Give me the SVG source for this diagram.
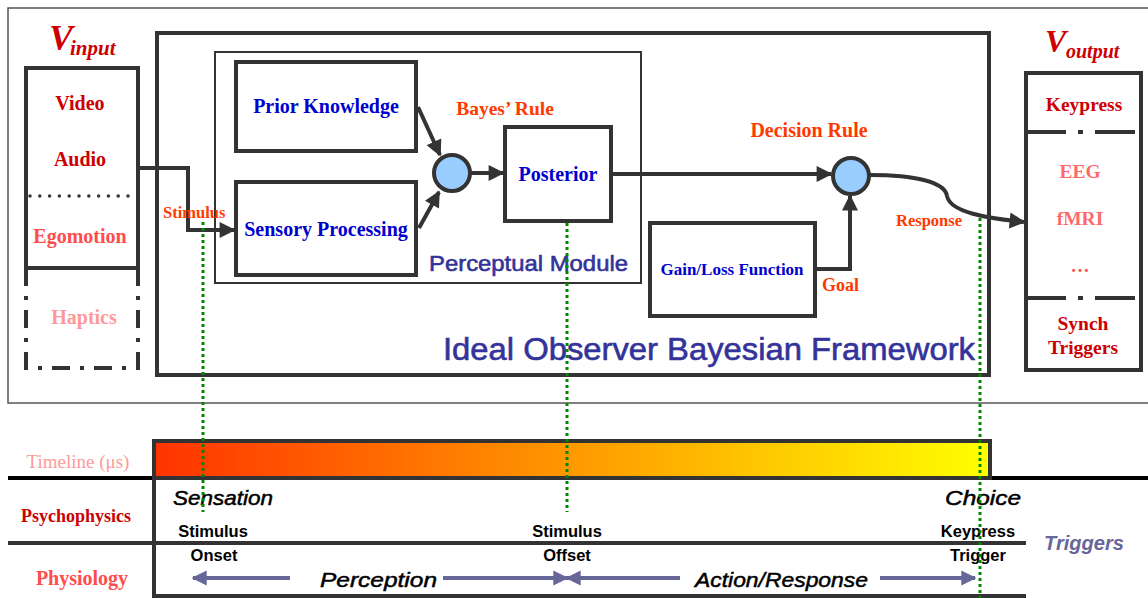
<svg xmlns="http://www.w3.org/2000/svg" width="1148" height="598" viewBox="0 0 1148 598">
<defs>
<linearGradient id="tl" x1="0" y1="0" x2="1" y2="0">
<stop offset="0" stop-color="#ff3300"/>
<stop offset="0.5" stop-color="#ff9900"/>
<stop offset="1" stop-color="#ffff00"/>
</linearGradient>
<marker id="ah" viewBox="0 0 10 10" refX="9" refY="5" markerWidth="4.2" markerHeight="4" orient="auto" markerUnits="strokeWidth">
<path d="M0,0 L10,5 L0,10 z" fill="#333"/>
</marker>
<marker id="bh" viewBox="0 0 10 10" refX="9" refY="5" markerWidth="4.2" markerHeight="3.8" orient="auto" markerUnits="strokeWidth">
<path d="M0,0 L10,5 L0,10 z" fill="#666699"/>
</marker>
</defs>
<style>
.box{fill:#fff;stroke:#333;stroke-width:4}
.thin{fill:none;stroke:#333;stroke-width:2}
.ln{fill:none;stroke:#333;stroke-width:4}
.circ{fill:#99ccff;stroke:#333;stroke-width:4}
.serif{font-family:"Liberation Serif",serif;font-weight:bold}
.sans{font-family:"Liberation Sans",Arial,sans-serif}
.blue{fill:#0000cc}
.org{fill:#ff3a00}
.dred{fill:#cc0000}
.lred{fill:#ff4d4d}
.pink{fill:#ff9999}
.navy{fill:#333399;stroke:#333399;stroke-width:0.6}
.green{fill:none;stroke:#008800;stroke-width:3;stroke-dasharray:3 3}
.parr{fill:none;stroke:#666699;stroke-width:4}
.it{font-style:italic;font-weight:normal;stroke:#000;stroke-width:0.5}
</style>
<rect x="8" y="8" width="1150" height="395" fill="#fff" stroke="#555" stroke-width="1.5"/>

<g id="vinput">
<text x="49" y="50" class="serif dred" font-style="italic" font-size="36">V</text>
<text x="70" y="55" class="serif dred" font-style="italic" font-size="21">input</text>
<path class="ln" d="M26,268 V68 H138 V268 H26"/>
<line x1="30" y1="196" x2="136" y2="196" stroke="#333" stroke-width="3.5" stroke-dasharray="0 9.8" stroke-linecap="round"/>
<path class="ln" d="M26,268 V368 H138 V268" stroke-dasharray="18 10 4 10"/>
<text x="80" y="110" text-anchor="middle" class="serif dred" font-size="20">Video</text>
<text x="80" y="166" text-anchor="middle" class="serif dred" font-size="20">Audio</text>
<text x="80" y="243" text-anchor="middle" class="serif lred" font-size="20">Egomotion</text>
<text x="84" y="324" text-anchor="middle" class="serif pink" font-size="20">Haptics</text>
</g>

<g id="framework">
<rect x="157" y="33" width="832" height="342" class="box"/>
<text x="443" y="360" class="sans navy" font-size="31" textLength="532" lengthAdjust="spacingAndGlyphs">Ideal Observer Bayesian Framework</text>
</g>

<g id="perceptual-module">
<rect x="215" y="52" width="426" height="231" class="thin"/>
<text x="429" y="271" class="sans navy" font-size="22" textLength="199" lengthAdjust="spacingAndGlyphs">Perceptual Module</text>
</g>

<g id="prior">
<rect x="236" y="62" width="180" height="89" class="box"/>
<text x="326" y="113" text-anchor="middle" class="serif blue" font-size="20">Prior Knowledge</text>
</g>

<g id="sensory">
<rect x="236" y="182" width="180" height="93" class="box"/>
<text x="326" y="236" text-anchor="middle" class="serif blue" font-size="20">Sensory Processing</text>
</g>

<g id="bayes">
<circle cx="452" cy="173" r="18" class="circ"/>
<text x="505" y="115" text-anchor="middle" class="serif org" font-size="19.5">Bayes’ Rule</text>
</g>

<g id="posterior">
<rect x="505" y="127" width="106" height="94" class="box"/>
<text x="558" y="181" text-anchor="middle" class="serif blue" font-size="20">Posterior</text>
</g>

<g id="decision">
<circle cx="851" cy="176" r="18" class="circ"/>
<text x="809" y="137" text-anchor="middle" class="serif org" font-size="20">Decision Rule</text>
</g>

<g id="gainloss">
<rect x="650" y="223" width="165" height="93" class="box"/>
<text x="732" y="275" text-anchor="middle" class="serif blue" font-size="17">Gain/Loss Function</text>
</g>

<g id="voutput">
<text x="1045" y="52" class="serif dred" font-style="italic" font-size="32">V</text>
<text x="1066" y="58" class="serif dred" font-style="italic" font-size="20">output</text>
<rect x="1026" y="73" width="115" height="297" class="box"/>
<line x1="1026" y1="132" x2="1141" y2="132" stroke="#333" stroke-width="4" stroke-dasharray="40 12 5 12"/>
<line x1="1026" y1="298" x2="1141" y2="298" stroke="#333" stroke-width="4" stroke-dasharray="40 12 5 12"/>
<text x="1084" y="111" text-anchor="middle" class="serif dred" font-size="19.5">Keypress</text>
<text x="1080" y="178" text-anchor="middle" class="serif lred" font-size="19.5" fill-opacity="0.85">EEG</text>
<text x="1080" y="225" text-anchor="middle" class="serif lred" font-size="19.5" fill-opacity="0.85">fMRI</text>
<text x="1080" y="272" text-anchor="middle" class="serif lred" font-size="19">…</text>
<text x="1083" y="330" text-anchor="middle" class="serif dred" font-size="19.5">Synch</text>
<text x="1083" y="354" text-anchor="middle" class="serif dred" font-size="19.5">Triggers</text>
</g>

<g id="connectors">
<path class="ln" d="M138,168 H188 V230 H234" marker-end="url(#ah)"/>
<path class="ln" d="M418,107 L440,155" marker-end="url(#ah)"/>
<path class="ln" d="M419,228 L439,192" marker-end="url(#ah)"/>
<path class="ln" d="M470,173 H503" marker-end="url(#ah)"/>
<path class="ln" d="M611,174 H831" marker-end="url(#ah)"/>
<path class="ln" d="M815,269 H850 V196" marker-end="url(#ah)"/>
<path class="ln" d="M870,175 C915,175 945,182 947,196 C950,212 985,218 1024,222" marker-end="url(#ah)"/>
<text x="163" y="218" class="serif org" font-size="16.5">Stimulus</text>
<text x="896" y="226" class="serif org" font-size="16.5">Response</text>
<text x="822" y="291" class="serif org" font-size="18">Goal</text>
</g>

<g id="timeline">
<line x1="8" y1="478" x2="153" y2="478" stroke="#000" stroke-width="4"/>
<line x1="991" y1="478" x2="1148" y2="478" stroke="#000" stroke-width="4"/>
<rect x="154" y="441" width="836" height="37" fill="url(#tl)" stroke="#333" stroke-width="4"/>
<line x1="8" y1="543" x2="1026" y2="543" stroke="#333" stroke-width="4"/>
<line x1="153" y1="596" x2="1026" y2="596" stroke="#333" stroke-width="4"/>
<line x1="154" y1="478" x2="154" y2="598" stroke="#333" stroke-width="4"/>
<text x="78" y="468" text-anchor="middle" font-family="Liberation Serif,serif" font-size="19" class="pink">Timeline (μs)</text>
<text x="76" y="522" text-anchor="middle" class="serif dred" font-size="18">Psychophysics</text>
<text x="82" y="585" text-anchor="middle" class="serif lred" font-size="20">Physiology</text>
<g class="sans" font-weight="bold" fill="#000">
<text x="173" y="505" class="it" font-size="21" textLength="100" lengthAdjust="spacingAndGlyphs">Sensation</text>
<text x="945" y="505" class="it" font-size="21" textLength="76" lengthAdjust="spacingAndGlyphs">Choice</text>
<text x="213" y="537" text-anchor="middle" font-size="16.5">Stimulus</text>
<text x="214" y="561" text-anchor="middle" font-size="16.5">Onset</text>
<text x="567" y="537" text-anchor="middle" font-size="16.5">Stimulus</text>
<text x="567" y="561" text-anchor="middle" font-size="16.5">Offset</text>
<text x="978" y="537" text-anchor="middle" font-size="16.5">Keypress</text>
<text x="978" y="561" text-anchor="middle" font-size="16.5">Trigger</text>
<text x="320" y="587" class="it" font-size="21" textLength="117" lengthAdjust="spacingAndGlyphs">Perception</text>
<text x="695" y="587" class="it" font-size="21" textLength="173" lengthAdjust="spacingAndGlyphs">Action/Response</text>
</g>
<text x="1044" y="550" class="sans" font-style="italic" font-weight="bold" font-size="20" fill="#666699" textLength="80" lengthAdjust="spacingAndGlyphs">Triggers</text>
<path class="parr" d="M290,578 H193" marker-end="url(#bh)"/>
<path class="parr" d="M443,578 H567" marker-end="url(#bh)"/>
<path class="parr" d="M680,578 H567" marker-end="url(#bh)"/>
<path class="parr" d="M880,578 H975" marker-end="url(#bh)"/>
</g>

<g id="markers">
<line x1="203" y1="222" x2="203" y2="512" class="green"/>
<line x1="567" y1="223" x2="567" y2="512" class="green"/>
<line x1="980" y1="218" x2="980" y2="598" class="green"/>
</g>
</svg>
